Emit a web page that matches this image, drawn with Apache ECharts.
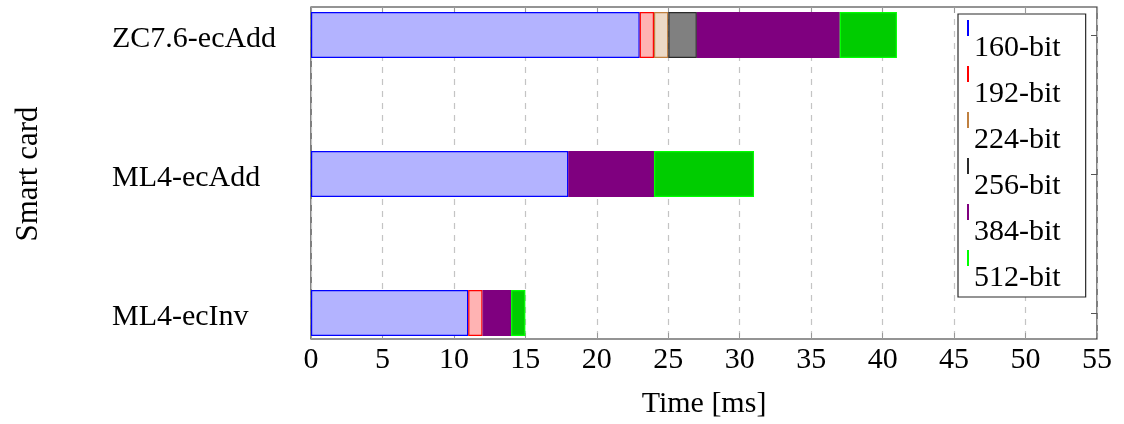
<!DOCTYPE html>
<html>
<head>
<meta charset="utf-8">
<script src="https://cdn.jsdelivr.net/npm/echarts@6/dist/echarts.min.js"></script>
<style>html,body{margin:0;padding:0;background:#fff}#c{width:1124px;height:424px}</style>
</head>
<body>
<div id="c"></div>
<script>
const categories = ['ZC7.6-ecAdd', 'ML4-ecAdd', 'ML4-ecInv'];
const seriesNames = ['160-bit', '192-bit', '224-bit', '256-bit', '384-bit', '512-bit'];
const v160 = [23, 18, 11];
const v192 = [1, null, 1];
const v224 = [1, null, null];
const v256 = [2, null, null];
const v384 = [10, 6, 2];
const v512 = [4, 7, 1];
const xTicks = [0, 5, 10, 15, 20, 25, 30, 35, 40, 45, 50, 55];

const values = [v160, v192, v224, v256, v384, v512];
const fills = ['#b3b3ff', '#ffb3b3', '#ecd9c6', '#808080', '#7f007f', '#00cc00'];
const borders = ['#0000ff', '#ff0000', '#bf8040', '#2a2a2a', '#7f007f', '#00ff00'];
const FONT = 'Liberation Serif';

const chart = echarts.init(document.getElementById('c'), null, {renderer: 'canvas'});
const L = 311, R = 1124 - 1097;

chart.setOption({
  animation: false,
  backgroundColor: '#fff',
  grid: [
    {left: L, right: R, top: 35, bottom: 424 - 313, show: false},
    {left: L, right: R, top: 7, bottom: 424 - 341, show: true, borderColor: '#2a2a2a', borderWidth: 1.2, backgroundColor: 'transparent'}
  ],
  xAxis: [
    {gridIndex: 0, type: 'value', min: xTicks[0], max: xTicks[xTicks.length - 1], show: false},
    {gridIndex: 1, type: 'value', min: xTicks[0], max: xTicks[xTicks.length - 1], interval: 5, position: 'bottom',
      axisLine: {show: false},
      axisTick: {show: true, inside: true, length: 6, lineStyle: {color: '#999'}},
      axisLabel: {fontFamily: FONT, fontSize: 30, color: '#000', margin: 6},
      splitLine: {show: true, lineStyle: {type: [6, 6], color: '#c4c4c4', width: 1.2}},
      name: 'Time [ms]', nameLocation: 'middle', nameGap: 50,
      nameTextStyle: {fontFamily: FONT, fontSize: 30, color: '#000'}},
    {gridIndex: 1, type: 'value', min: xTicks[0], max: xTicks[xTicks.length - 1], interval: 5, position: 'top',
      axisLine: {show: false},
      axisTick: {show: true, inside: true, length: 6, lineStyle: {color: '#999'}},
      axisLabel: {show: false}, splitLine: {show: false}}
  ],
  yAxis: [
    {gridIndex: 0, type: 'category', data: categories, inverse: true, boundaryGap: false,
      axisLine: {show: false},
      axisTick: {show: true, inside: true, length: 6, lineStyle: {color: '#555'}},
      axisLabel: {align: 'left', margin: 199, formatter: '{a|{value}}',
        rich: {a: {fontFamily: FONT, fontSize: 30, color: '#000', padding: [8, 0, 0, 0]}}},
      name: 'Smart card', nameLocation: 'middle', nameGap: 267, nameRotate: 90,
      nameTextStyle: {fontFamily: FONT, fontSize: 31, color: '#000'}},
    {gridIndex: 0, type: 'category', data: categories, inverse: true, boundaryGap: false, position: 'right',
      axisLine: {show: false},
      axisTick: {show: true, inside: true, length: 6, lineStyle: {color: '#555'}},
      axisLabel: {show: false}},
    {gridIndex: 1, type: 'value', show: false}
  ],
  legend: {
    orient: 'vertical', left: 958, top: 14,
    padding: [6, 25, 0, 9],
    itemGap: -1, itemWidth: 2, itemHeight: 47,
    backgroundColor: '#fff', borderColor: '#2a2a2a', borderWidth: 1.2, borderRadius: 0,
    formatter: '{a|{name}}',
    textStyle: {fontFamily: FONT, fontSize: 30, color: '#000',
      rich: {a: {fontFamily: FONT, fontSize: 30, color: '#000', padding: [9, 0, 0, 0]}}},
    icon: 'path://M0,0L2,0L2,16L0,16Z M0,47L0.01,47',
    data: seriesNames.map((n, i) => ({name: n, itemStyle: {color: borders[i], borderWidth: 0}}))
  },
  series: seriesNames.map((n, i) => ({
    name: n, type: 'bar', stack: 'total', xAxisIndex: 0, yAxisIndex: 0,
    barWidth: 46, clip: false,
    itemStyle: {color: fills[i], borderColor: borders[i], borderWidth: 1.2},
    data: values[i]
  }))
});
</script>
</body>
</html>
